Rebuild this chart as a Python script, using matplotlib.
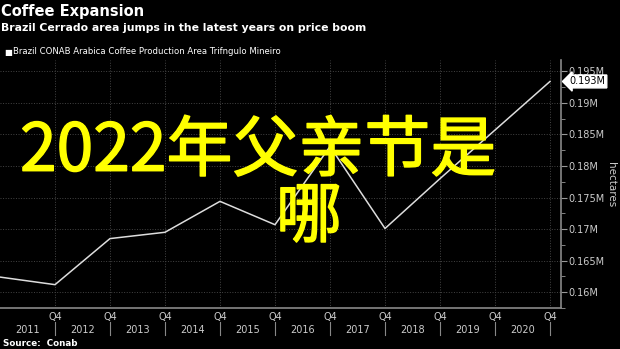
import matplotlib.pyplot as plt
import matplotlib.patheffects as pe
import numpy as np

# Trifngulo Mineiro arabica area, Q4 of each year, million hectares
years = [2010, 2011, 2012, 2013, 2014, 2015, 2016, 2017, 2018, 2019, 2020]
area = [0.1624, 0.1612, 0.1685, 0.1695, 0.1744, 0.1707, 0.1831, 0.1701, 0.1780, 0.1857, 0.1934]
year_labels = ['2011', '2012', '2013', '2014', '2015', '2016', '2017', '2018', '2019', '2020']
yticks = [0.16, 0.165, 0.17, 0.175, 0.18, 0.185, 0.19, 0.195]

W, H = 620, 349
fig = plt.figure(figsize=(6.2, 3.49), dpi=100, facecolor='black')
ax = fig.add_axes([0, 41 / H, 561 / W, 248 / H], facecolor='black')

x = np.arange(len(years))
ax.plot(x, area, color='#dddddd', lw=1.1, zorder=3)

ax.set_xlim(0, 10.2)
ax.set_ylim(0.1583, 0.1968)

ax.yaxis.tick_right()
ax.set_yticks(yticks)
ax.set_yticklabels([f'{v:g}M' for v in yticks])
ax.set_yticks(np.arange(0.1575, 0.197, 0.0025), minor=True)
ax.tick_params(axis='y', which='major', colors='#999999', labelcolor='#cccccc',
               labelsize=7, length=4, pad=1)
ax.tick_params(axis='y', which='minor', colors='#999999', length=3)

ax.set_xticks(x[1:])
ax.set_xticklabels(['Q4'] * 10)
ax.tick_params(axis='x', colors='#999999', labelcolor='#cccccc', labelsize=7,
               length=0, pad=3)

ax.grid(True, which='major', color='#444444', ls=':', lw=0.7)

for s in ['left', 'top']:
    ax.spines[s].set_visible(False)
for s in ['right', 'bottom']:
    ax.spines[s].set_color('#888888')
    ax.spines[s].set_linewidth(1.2)

# year labels and separators under the axis
tr = ax.get_xaxis_transform()
for i, lab in enumerate(year_labels):
    ax.text(i + 0.5, -0.089, lab, transform=tr, ha='center', va='center',
            color='#cccccc', fontsize=7)
    ax.plot([i + 1, i + 1], [-0.056, -0.109], transform=tr, color='#888888',
            lw=0.8, clip_on=False)

# last value tag
ax.annotate('0.193M', xy=(1, area[-1]), xycoords=('axes fraction', 'data'),
            xytext=(6, 0), textcoords='offset points', ha='left', va='center',
            fontsize=7, color='black',
            bbox=dict(boxstyle='larrow,pad=0.15', fc='white', ec='white'))

fig.text(611 / W, 1 - 185 / H, 'hectares', rotation=270, ha='center',
         va='center', color='#cccccc', fontsize=7.5)

# header
fig.text(1 / W, 1 - 4 / H, 'Coffee Expansion', color='white', fontsize=10.5,
         fontweight='bold', ha='left', va='top')
fig.text(1 / W, 1 - 23 / H, 'Brazil Cerrado area jumps in the latest years on price boom',
         color='white', fontsize=7.8, fontweight='bold', ha='left', va='top')
fig.text(4 / W, 1 - 52 / H, '\u25a0', color='white', fontsize=6, ha='left', va='center')
fig.text(13 / W, 1 - 52 / H, 'Brazil CONAB Arabica Coffee Production Area Trifngulo Mineiro',
         color='white', fontsize=6.1, ha='left', va='center')
fig.text(3 / W, 1 - 343 / H, 'Source:  Conab', color='white', fontsize=6.3,
         fontweight='bold', ha='left', va='center')

# overlay caption (regular weight thickened with a same-colour stroke)
stroke = [pe.withStroke(linewidth=1.0, foreground='#ffff00')]
fig.text(20 / W, 1 - 152 / H, '2022年父亲节是', color='#ffff00', fontsize=47.5,
         family=['Noto Sans CJK SC', 'DejaVu Sans'],
         ha='left', va='center', path_effects=stroke)
fig.text(309 / W, 1 - 218 / H, '哪', color='#ffff00', fontsize=47.5,
         family=['Noto Sans CJK SC', 'DejaVu Sans'],
         ha='center', va='center', path_effects=stroke)

fig.savefig('out.png', dpi=100, facecolor='black')
